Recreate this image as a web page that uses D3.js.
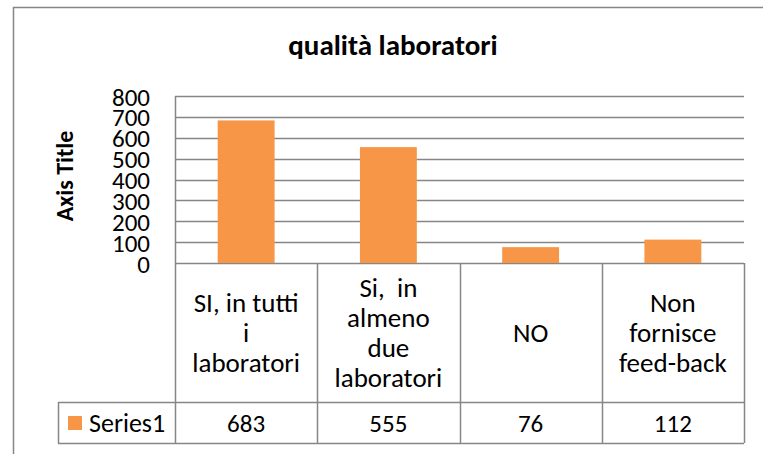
<!DOCTYPE html>
<html>
<head>
<meta charset="utf-8">
<script src="https://cdn.jsdelivr.net/npm/d3@7"></script>
<style>
    body { margin: 0; background: #fff; }
    svg { display: block; font-family: Carlito, Lato, "Liberation Sans", sans-serif; }
</style>
</head>
<body>
<div id="chart"></div>
<script>
// data
var categories = ["SI, in tutti\ni\nlaboratori", "Si,  in\nalmeno\ndue\nlaboratori", "NO", "Non\nfornisce\nfeed-back"];
var series1 = [683, 555, 76, 112];
var yTicks = [0, 100, 200, 300, 400, 500, 600, 700, 800];
var seriesName = "Series1";
var chartTitle = "qualità laboratori";
var axisTitle = "Axis Title";

var width = 763, height = 454;
var plotLeft = 175, plotRight = 744, plotTop = 96, plotBottom = 263;
var rowY = 402, tableBottom = 443, legendLeft = 58;
var gridColor = "#868686";
var barColor = "#F79646";

var svg = d3.select("#chart")
    .append("svg")
    .attr("width", width)
    .attr("height", height);

// outer chart border
svg.append("path")
    .attr("d", "M13.5," + height + "V7.5H" + width)
    .style("fill", "none")
    .style("stroke", gridColor)
    .style("stroke-width", 1.5);

var x = d3.scaleBand()
    .domain(d3.range(categories.length))
    .range([plotLeft, plotRight]);

var y = d3.scaleLinear()
    .domain([0, 800])
    .range([plotBottom, plotTop]);

// gridlines
svg.selectAll("line.grid")
    .data(yTicks)
    .enter()
    .append("line")
    .attr("class", "grid")
    .attr("x1", plotLeft)
    .attr("x2", plotRight)
    .attr("y1", function(d){ return Math.round(y(d)) + 0.5; })
    .attr("y2", function(d){ return Math.round(y(d)) + 0.5; })
    .style("stroke", gridColor)
    .style("stroke-width", 1.5);

// bars
var barW = x.bandwidth() * 0.4;
svg.selectAll("rect.bar")
    .data(series1)
    .enter()
    .append("rect")
    .attr("class", "bar")
    .attr("x", function(d, i){ return x(i) + (x.bandwidth() - barW) / 2; })
    .attr("y", function(d){ return y(d); })
    .attr("width", barW)
    .attr("height", function(d){ return y(0) - y(d); })
    .style("fill", barColor);

// y axis labels
var yAxis = d3.axisLeft(y)
    .tickValues(yTicks)
    .tickSize(0)
    .tickPadding(0);

var yg = svg.append("g")
    .attr("transform", "translate(150,0)")
    .call(yAxis)
    .attr("font-family", null)
    .attr("font-size", null);
yg.select(".domain").remove();
yg.selectAll("text")
    .attr("dy", "0.36em")
    .style("font-size", "25px")
    .style("fill", "#000");

// table lines
var table = svg.append("g")
    .style("stroke", gridColor)
    .style("stroke-width", 1.5)
    .style("fill", "none");

var vx = x.domain().map(function(i){ return x(i); }).concat([plotRight]);
table.selectAll("line.v")
    .data(vx)
    .enter()
    .append("line")
    .attr("x1", function(d){ return Math.round(d) + 0.5; })
    .attr("x2", function(d){ return Math.round(d) + 0.5; })
    .attr("y1", function(d, i){ return i == 0 ? plotTop : plotBottom; })
    .attr("y2", tableBottom);

table.append("line")
    .attr("x1", legendLeft).attr("x2", plotRight)
    .attr("y1", rowY + 0.5).attr("y2", rowY + 0.5);
table.append("line")
    .attr("x1", legendLeft).attr("x2", plotRight)
    .attr("y1", tableBottom + 0.5).attr("y2", tableBottom + 0.5);
table.append("line")
    .attr("x1", legendLeft + 0.5).attr("x2", legendLeft + 0.5)
    .attr("y1", rowY).attr("y2", tableBottom);

// category labels in the table header row
var lineH = 30;
var catText = svg.selectAll("text.cat")
    .data(categories)
    .enter()
    .append("text")
    .attr("class", "cat")
    .attr("text-anchor", "middle")
    .attr("xml:space", "preserve")
    .style("font-size", "27px")
    .style("fill", "#000");

catText.each(function(d, i){
    var lines = d.split("\n");
    var cy = (plotBottom + rowY) / 2 - (lines.length - 1) * lineH / 2;
    var t = d3.select(this);
    lines.forEach(function(l, j){
        t.append("tspan")
            .attr("x", x(i) + x.bandwidth() / 2)
            .attr("y", cy + j * lineH)
            .attr("dy", "0.36em")
            .text(l);
    });
});

// values row
svg.selectAll("text.val")
    .data(series1)
    .enter()
    .append("text")
    .attr("class", "val")
    .attr("x", function(d, i){ return x(i) + x.bandwidth() / 2; })
    .attr("y", (rowY + tableBottom) / 2)
    .attr("dy", "0.36em")
    .attr("text-anchor", "middle")
    .style("font-size", "25px")
    .text(function(d){ return d; });

// legend key
svg.append("rect")
    .attr("x", 68)
    .attr("y", 416)
    .attr("width", 14)
    .attr("height", 14)
    .style("fill", barColor);
svg.append("text")
    .attr("x", 89)
    .attr("y", (rowY + tableBottom) / 2)
    .attr("dy", "0.36em")
    .style("font-size", "26px")
    .text(seriesName);

// titles
svg.append("text")
    .attr("x", 393)
    .attr("y", 45)
    .attr("dy", "0.36em")
    .attr("text-anchor", "middle")
    .style("font-size", "29px")
    .style("font-weight", "bold")
    .text(chartTitle);

svg.append("text")
    .attr("transform", "translate(64,176) rotate(-90)")
    .attr("dy", "0.36em")
    .attr("text-anchor", "middle")
    .style("font-size", "24px")
    .style("font-weight", "bold")
    .text(axisTitle);
</script>
</body>
</html>
